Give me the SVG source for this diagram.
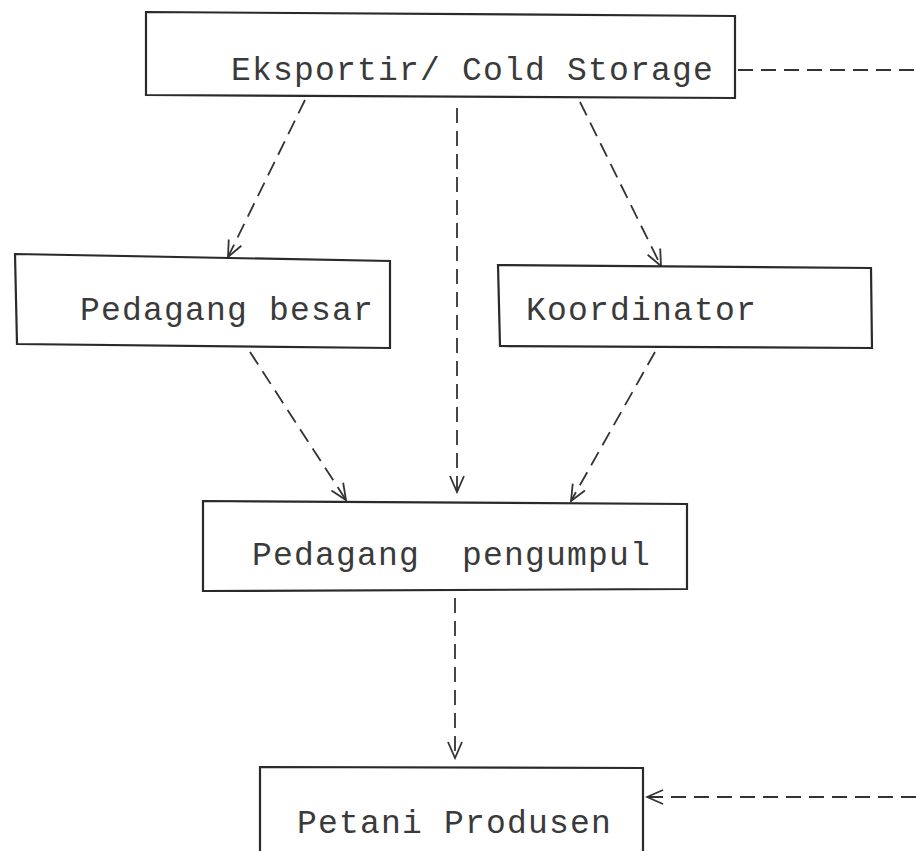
<svg xmlns="http://www.w3.org/2000/svg" width="916" height="851" viewBox="0 0 916 851">
<style>
.box{fill:#fff;stroke:#2a2a2a;stroke-width:2.2}
.lbl{font-family:"Liberation Mono","DejaVu Sans Mono",monospace;font-size:33px;letter-spacing:1.2px;fill:#3a3a3a;white-space:pre}
.con{fill:none;stroke:#333;stroke-width:1.8;stroke-dasharray:15 8}
</style>
<defs>
<marker id="ah" viewBox="0 0 20 20" refX="18" refY="10" markerWidth="20" markerHeight="20" markerUnits="userSpaceOnUse" orient="auto">
<path d="M2,3 L18,10 L2,17" fill="none" stroke="#333" stroke-width="1.8"/>
</marker>
</defs>
<rect width="916" height="851" fill="#fff"/>
<g id="connectors">
<line class="con" x1="305" y1="100" x2="228" y2="257" marker-end="url(#ah)"/>
<line class="con" x1="457" y1="108" x2="457" y2="492" marker-end="url(#ah)"/>
<line class="con" x1="580" y1="102" x2="661" y2="266" marker-end="url(#ah)"/>
<line class="con" x1="250" y1="352" x2="346" y2="500" marker-end="url(#ah)"/>
<line class="con" x1="655" y1="352" x2="571" y2="501" marker-end="url(#ah)"/>
<line class="con" x1="455" y1="598" x2="455" y2="758" marker-end="url(#ah)"/>
<line class="con" x1="738" y1="70" x2="916" y2="70"/>
<line class="con" x1="916" y1="797" x2="647" y2="797" marker-end="url(#ah)"/>
</g>
<g id="eksportir">
<polygon class="box" points="146,12 735,16 735,98 146,95"/>
<text class="lbl" x="231" y="80">Eksportir/ Cold Storage</text>
</g>
<g id="pedagang-besar">
<polygon class="box" points="15,254 390,261 390,348 17,344"/>
<text class="lbl" x="80" y="320">Pedagang besar</text>
</g>
<g id="koordinator">
<polygon class="box" points="498,265 871,268 872,348 500,346"/>
<text class="lbl" x="526" y="320">Koordinator</text>
</g>
<g id="pedagang-pengumpul">
<polygon class="box" points="203,501 687,504 687,589 203,591"/>
<text class="lbl" x="252" y="565" xml:space="preserve">Pedagang  pengumpul</text>
</g>
<g id="petani-produsen">
<polygon class="box" points="260,767 643,768 643,860 260,860"/>
<text class="lbl" x="297" y="833">Petani Produsen</text>
</g>
</svg>
